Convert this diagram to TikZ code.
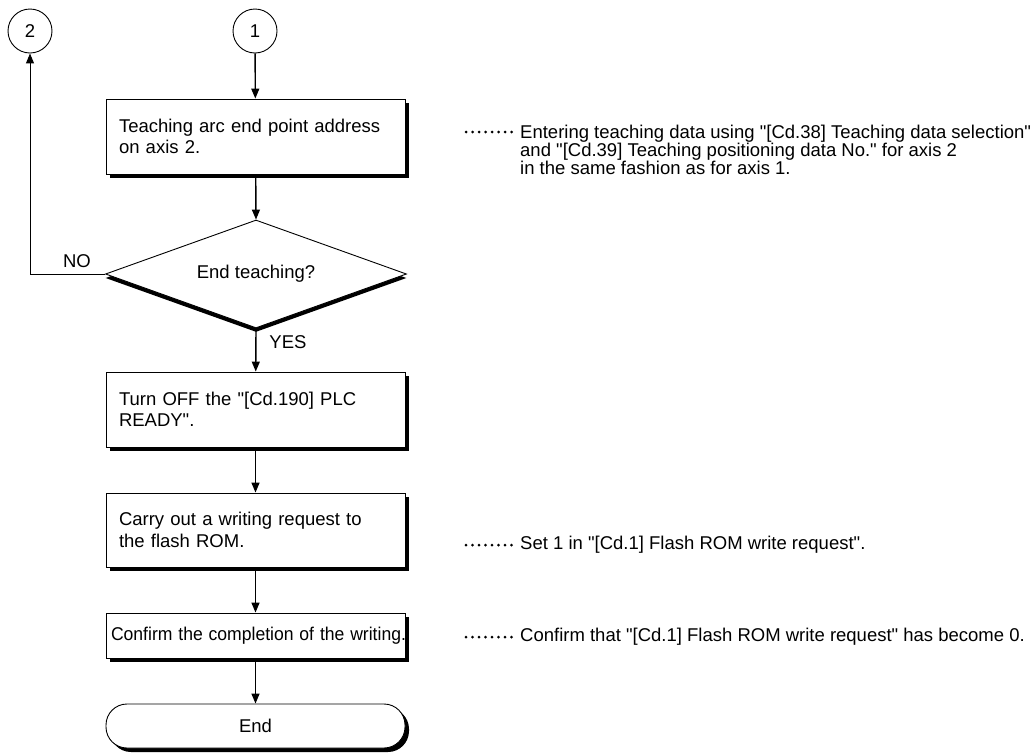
\documentclass[tikz,border=0pt]{standalone}
\usepackage{graphicx}
\usepackage{fontspec}
\setmainfont{Liberation Sans}[Ligatures=TeXOff]
\usetikzlibrary{shapes.geometric,arrows.meta,shadows}
\begin{document}
\begin{tikzpicture}[x=1pt,y=-1pt,
  boxfont/.style={font=\fontsize{18.5}{21.5}\selectfont},
  notefont/.style={font=\fontsize{18.5}{18}\selectfont},
  proc/.style={boxfont,draw,line width=0.9pt,fill=white,minimum width=299pt,inner xsep=13pt,inner ysep=0pt,
    text width=273pt,align=left,
    drop shadow={shadow xshift=4pt,shadow yshift=-4pt,fill=black,opacity=1}},
  conn/.style={boxfont,draw,circle,line width=0.9pt,minimum size=44pt,inner sep=0pt},
  arr/.style={line width=1.4pt,-{Triangle[length=10pt,width=8pt]}},
  dots/.style={line width=3pt,line cap=round,dash pattern=on 0pt off 6.5pt},
  lab/.style={boxfont,inner sep=0pt},
  note/.style={notefont,anchor=west,inner sep=0pt,align=left}
]
\useasboundingbox (0,0) rectangle (1036,753);

\node[conn] (c2) at (30,31) {2};
\node[conn] (c1) at (255,31) {1};

\node[proc,minimum height=75pt] (b1) at (255.5,136.5) {Teaching arc end point address\\on axis 2.};

\node[boxfont,draw,diamond,aspect=2.79,line width=0.9pt,fill=white,minimum width=301pt,minimum height=108pt,inner sep=0pt,
  drop shadow={shadow xshift=0pt,shadow yshift=-4pt,fill=black,opacity=1}] (d) at (256,274) {End teaching?};

\node[proc,minimum height=75pt] (b2) at (255.5,409.5) {Turn OFF the "[Cd.190] PLC\\READY".};
\node[proc,minimum height=74pt] (b3) at (255.5,530) {Carry out a writing request to\\the flash ROM.};
\node[proc,minimum height=45pt,text width=289pt,inner xsep=5pt,align=center] (b4) at (255.5,635.5) {\scalebox{0.95}[1]{Confirm the completion of the writing.}};
\node[proc,minimum height=44pt,align=center,rounded corners=21pt] (e) at (255.5,726) {End};

\draw[arr] (c1) -- (b1);
\draw[arr] (b1) -- (d.north);
\draw[arr] (d.south) -- (b2);
\draw[arr] (b2) -- (b3);
\draw[arr] (b3) -- (b4);
\draw[arr] (b4) -- (e);
\draw[arr,line width=1pt] (d.west) -| (c2.south);

\node[lab] (no) at (77,261) {NO};
\node[lab] (yes) at (288,342) {YES};

\coordinate (p1) at (466,132);
\node[note,anchor=north west] (n1) at (520,124.5) {Entering teaching data using "[Cd.38] Teaching data selection"\\and "[Cd.39] Teaching positioning data No." for axis 2\\in the same fashion as for axis 1.};
\coordinate (q1) at (512,132);
\draw[dots] (p1) -- (q1);

\coordinate (p3) at (466,545);
\node[note] (n3) at (520,545) {Set 1 in "[Cd.1] Flash ROM write request".};
\draw[dots] (p3) -- ([xshift=-8pt]n3.west);

\coordinate (p4) at (466,637);
\node[note] (n4) at (520,637) {Confirm that "[Cd.1] Flash ROM write request" has become 0.};
\draw[dots] (p4) -- ([xshift=-8pt]n4.west);
\end{tikzpicture}
\end{document}
